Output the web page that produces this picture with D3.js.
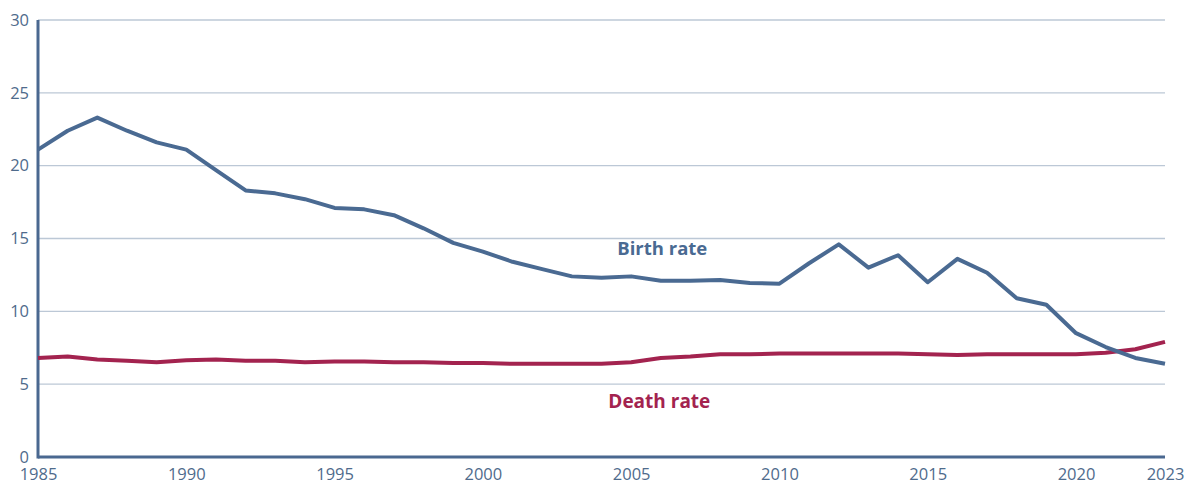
<!DOCTYPE html>
<html>
<head>
<meta charset="utf-8">
<script src="https://cdn.jsdelivr.net/npm/d3@7"></script>
<style>
  body { margin: 0; background: #fff; }
  .tick text { font-family: "Open Sans", sans-serif; fill: #4f6b8c; font-size: 16.5px; }
</style>
</head>
<body>
<script>
const years = d3.range(1985, 2024);

const birthRate = [21.1, 22.4, 23.3, 22.4, 21.6, 21.1, 19.7, 18.3, 18.1, 17.7,
    17.1, 17.0, 16.6, 15.7, 14.7, 14.1, 13.4, 12.9, 12.4, 12.3,
    12.4, 12.1, 12.1, 12.15, 11.95, 11.9, 13.3, 14.6, 13.0, 13.85,
    12.0, 13.6, 12.65, 10.9, 10.45, 8.5, 7.55, 6.8, 6.4];

const deathRate = [6.8, 6.9, 6.7, 6.6, 6.5, 6.65, 6.7, 6.6, 6.6, 6.5,
    6.55, 6.55, 6.5, 6.5, 6.45, 6.45, 6.4, 6.4, 6.4, 6.4,
    6.5, 6.8, 6.9, 7.05, 7.05, 7.1, 7.1, 7.1, 7.1, 7.1,
    7.05, 7.0, 7.05, 7.05, 7.05, 7.05, 7.15, 7.4, 7.9];

const xTicks = [1985, 1990, 1995, 2000, 2005, 2010, 2015, 2020, 2023];
const yTicks = [0, 5, 10, 15, 20, 25, 30];

let width = 1186;
let height = 484;
let margin = {top: 20, right: 21, bottom: 27, left: 38};

const svg = d3.select('body')
    .append('svg')
    .attr('width', width)
    .attr('height', height);

let x = d3.scaleLinear()
    .domain([1985, 2023])
    .range([margin.left, width - margin.right]);

let y = d3.scaleLinear()
    .domain([0, 30])
    .range([height - margin.bottom, margin.top]);

// gridlines
svg.append('g')
    .selectAll('line')
    .data(yTicks.filter(d => d > 0))
    .enter()
    .append('line')
    .attr('x1', x(1985))
    .attr('x2', x(2023))
    .attr('y1', d => y(d))
    .attr('y2', d => y(d))
    .attr('stroke', '#bcc8d6')
    .attr('stroke-width', 1.3);

// axes
let yAxis = svg.append('g')
    .attr('transform', 'translate(' + margin.left + ',0)')
    .call(d3.axisLeft(y).tickValues(yTicks).tickSize(0).tickPadding(9));
yAxis.select('.domain').remove();
yAxis.selectAll('.tick text').attr('dy', '0.32em');

let xAxis = svg.append('g')
    .attr('transform', 'translate(0,' + y(0) + ')')
    .call(d3.axisBottom(x).tickValues(xTicks).tickFormat(d3.format('d')).tickSize(0).tickPadding(11));
xAxis.select('.domain').remove();

svg.append('line')
    .attr('x1', x(1985)).attr('x2', x(2023))
    .attr('y1', y(0)).attr('y2', y(0))
    .attr('stroke', '#4a6890').attr('stroke-width', 3);

svg.append('line')
    .attr('x1', x(1985)).attr('x2', x(1985))
    .attr('y1', y(0) + 1.5).attr('y2', y(30))
    .attr('stroke', '#4a6890').attr('stroke-width', 3);

let line = d3.line()
    .x((d, i) => x(years[i]))
    .y(d => y(d));

svg.append('path')
    .datum(deathRate)
    .attr('d', line)
    .attr('fill', 'none')
    .attr('stroke', '#a3234f')
    .attr('stroke-width', 4)
    .attr('stroke-linejoin', 'round');

svg.append('path')
    .datum(birthRate)
    .attr('d', line)
    .attr('fill', 'none')
    .attr('stroke', '#4a6a92')
    .attr('stroke-width', 4)
    .attr('stroke-linejoin', 'round');

// labels
svg.append('text')
    .attr('x', x(2006.05))
    .attr('y', y(13.9))
    .attr('text-anchor', 'middle')
    .attr('font-family', '"Open Sans", sans-serif')
    .attr('font-weight', 'bold')
    .attr('font-size', 18.5)
    .attr('fill', '#4a6a92')
    .text('Birth rate');

svg.append('text')
    .attr('x', x(2005.95))
    .attr('y', y(3.35))
    .attr('text-anchor', 'middle')
    .attr('font-family', '"Open Sans", sans-serif')
    .attr('font-weight', 'bold')
    .attr('font-size', 19)
    .attr('fill', '#a3234f')
    .text('Death rate');
</script>
</body>
</html>
